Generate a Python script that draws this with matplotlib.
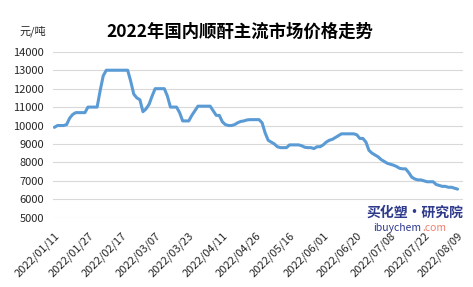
import matplotlib
matplotlib.use("Agg")
import matplotlib.pyplot as plt
import matplotlib.transforms as mtransforms

plt.rcParams['font.family'] = ['Noto Sans CJK SC', 'DejaVu Sans']

# daily price, yuan/ton
prices = [
    9900, 10000, 10000, 10000, 10050, 10400, 10600, 10700, 10700, 10700,
    10700, 11000, 11000, 11000, 11000, 11900, 12700, 13000, 13000, 13000,
    13000, 13000, 13000, 13000, 13000, 12400, 11700, 11500, 11400, 10750,
    10900, 11150, 11600, 12000, 12000, 12000, 12000, 11600, 11000, 11000,
    11000, 10700, 10250, 10250, 10250, 10550, 10800, 11050, 11050, 11050,
    11050, 11050, 10800, 10550, 10550, 10200, 10050, 10000, 10000, 10050,
    10150, 10220, 10250, 10300, 10320, 10320, 10320, 10320, 10150, 9600,
    9200, 9100, 9000, 8850, 8800, 8800, 8800, 8950, 8950, 8950,
    8950, 8900, 8820, 8800, 8800, 8750, 8850, 8850, 8950, 9100,
    9200, 9250, 9350, 9450, 9550, 9550, 9550, 9550, 9550, 9500,
    9300, 9300, 9100, 8650, 8500, 8400, 8300, 8150, 8050, 7950,
    7900, 7850, 7780, 7680, 7650, 7650, 7450, 7200, 7100, 7050,
    7050, 7000, 6950, 6950, 6950, 6800, 6750, 6700, 6700, 6650,
    6650, 6600, 6550,
]

date_labels = [
    '2022/01/11', '2022/01/27', '2022/02/17', '2022/03/07', '2022/03/23',
    '2022/04/11', '2022/04/26', '2022/05/16', '2022/06/01', '2022/06/20',
    '2022/07/08', '2022/07/22', '2022/08/09',
]
label_step = 11

y_ticks = [5000, 6000, 7000, 8000, 9000, 10000, 11000, 12000, 13000, 14000]

fig = plt.figure(figsize=(4.73, 2.87), dpi=100)
ax = fig.add_axes([0.113, 0.2415, 0.866, 0.578])

ax.plot(range(len(prices)), prices, color='#5B9BD5', linewidth=2.2,
        solid_joinstyle='round', solid_capstyle='round', zorder=3)

ax.set_ylim(5000, 14000)
ax.set_xlim(-0.3, len(prices) + 0.8)
ax.set_yticks(y_ticks)
ax.set_yticklabels([str(v) for v in y_ticks])
tick_pos = [i * label_step for i in range(len(date_labels))]
ax.set_xticks(tick_pos)
ax.set_xticklabels(date_labels, rotation=45, ha='right', va='top',
                   rotation_mode='anchor')
offset = mtransforms.ScaledTranslation(7 / 100, 0, fig.dpi_scale_trans)
for lbl in ax.get_xticklabels():
    lbl.set_transform(lbl.get_transform() + offset)

ax.grid(axis='y', color='#D9D9D9', linewidth=0.8)
ax.set_axisbelow(True)
for s in ax.spines.values():
    s.set_visible(False)
ax.tick_params(axis='both', length=0, labelsize=8, colors='#262626')
ax.tick_params(axis='y', pad=7)
ax.tick_params(axis='x', pad=9)

fig.text(0.508, 0.89, '2022年国内顺酐主流市场价格走势', ha='center', va='center',
         fontsize=12.5, fontweight='bold', color='black')
fig.text(0.041, 0.892, '元/吨', ha='left', va='center', fontsize=8, color='#262626')

# watermark
fig.text(0.979, 0.258, '买化塑·研究院', ha='right', va='center', fontsize=10,
         fontweight='bold', style='italic', color='#2E3A8C')
fig.text(0.789, 0.205, 'ibuychem', ha='left', va='center', fontsize=7.5,
         color='#2E3A8C')
fig.text(0.943, 0.205, '.com', ha='right', va='center', fontsize=7.5,
         color='#F07F6E')

fig.savefig('out.png', dpi=100, facecolor='white')
